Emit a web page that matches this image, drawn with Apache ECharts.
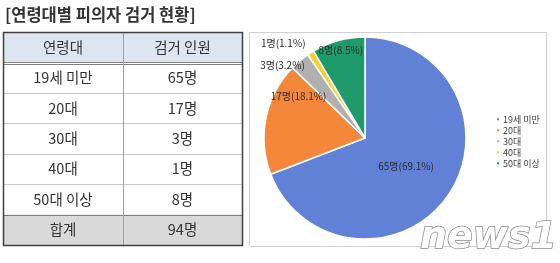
<!DOCTYPE html>
<html><head><meta charset="utf-8">
<script src="https://cdn.jsdelivr.net/npm/echarts@6/dist/echarts.min.js"></script>
<style>html,body{margin:0;padding:0;background:#fff}#c{width:560px;height:263px}</style>
</head><body><div id="c"></div>
<script>
const title = '[연령대별 피의자 검거 현황]';
const tableHeader = ['연령대', '검거 인원'];
const categories = ['19세 미만', '20대', '30대', '40대', '50대 이상'];
const counts = [65, 17, 3, 1, 8];
const percents = [69.1, 18.1, 3.2, 1.1, 8.5];
const totalLabel = '합계';
const totalCount = 94;
const colors = ['#6081d6', '#f5873a', '#b0b0b0', '#f7cf2e', '#1f9a6b'];
const labelOffsets = [[-3, -2], [-14, -31], [-48, -32], [-53, -50], [-10, -36]];

const FONT = '"Noto Sans CJK KR", "Noto Sans", sans-serif';
const chart = echarts.init(document.getElementById('c'));

// table graphic
const tx = [3, 123, 242];
const ty0 = 32, ty1 = 245;
const nRows = categories.length + 2;
const rh = (ty1 - ty0) / nRows;
const g = [];
g.push({type:'rect', shape:{x:tx[0], y:ty0, width:tx[2]-tx[0], height:rh}, style:{fill:'#dde5f0'}});
g.push({type:'rect', shape:{x:tx[0], y:ty0+rh*(nRows-1), width:tx[2]-tx[0], height:rh}, style:{fill:'#d9d9d9'}});
for (let i = 1; i < nRows; i++) {
  const y = Math.round(ty0 + rh*i) + 0.5;
  g.push({type:'line', shape:{x1:tx[0], y1:y, x2:tx[2], y2:y}, style:{stroke: (i===1 || i===nRows-1) ? '#7f7f7f' : '#c8c8c8', lineWidth:1}});
  if (i === 1) g.push({type:'line', shape:{x1:tx[0], y1:y+2, x2:tx[2], y2:y+2}, style:{stroke:'#7f7f7f', lineWidth:1}});
}
g.push({type:'line', shape:{x1:tx[1]+0.5, y1:ty0, x2:tx[1]+0.5, y2:ty1}, style:{stroke:'#a0a0a0', lineWidth:1}});
g.push({type:'rect', shape:{x:tx[0]+0.5, y:ty0+0.5, width:tx[2]-tx[0], height:ty1-ty0}, style:{fill:null, stroke:'#404040', lineWidth:1.5}});
const rows = [tableHeader].concat(categories.map((c,i)=>[c, counts[i]+'명'])).concat([[totalLabel, totalCount+'명']]);
rows.forEach((r, i) => {
  const cy = ty0 + rh*i + rh/2;
  [0,1].forEach(j => {
    g.push({type:'text', x:(tx[j]+tx[j+1])/2, y:cy, style:{text:r[j], fill:'#333', font:'14.5px ' + FONT, align:'center', verticalAlign:'middle'}});
  });
});
g.push({type:'rect', shape:{x:249.5, y:32.5, width:297, height:214}, style:{fill:null, stroke:'#d0d0d0', lineWidth:1}, z:-1});
g.push({type:'text', x:5, y:15, style:{text:title, fill:'#333', font:'bold 16.5px ' + FONT, verticalAlign:'middle'}});
g.push({type:'text', x:420, y:238, z:100, style:{text:'news1', fill:'#ffffff', stroke:'#8a8a8a', lineWidth:1.5, font:'italic bold 38px "DejaVu Sans", sans-serif', verticalAlign:'middle'}});

chart.setOption({
  animation:false,
  textStyle:{fontFamily:FONT},
  color: colors,
  graphic: g,
  legend: {
    orient:'vertical', left:490, top:109, icon:'rect', itemWidth:4, itemHeight:4, itemGap:0.5,
    textStyle:{fontSize:9, color:'#404040', lineHeight:10.5, padding:[0,0,0,-2]},
    data: categories
  },
  series: [{
    type:'pie', center:[365,138], radius:101, startAngle:90, clockwise:true,
    itemStyle:{borderColor:'#fff', borderWidth:1.5},
    label:{position:'inside', fontSize:10, color:'#2a2a2a', fontFamily:FONT},
    labelLine:{show:false},
    emphasis:{disabled:true},
    data: categories.map((c,i)=>({name:c, value:counts[i], label:{formatter: counts[i]+'명('+percents[i]+'%)', offset: labelOffsets[i]}}))
  }]
});
</script></body></html>
